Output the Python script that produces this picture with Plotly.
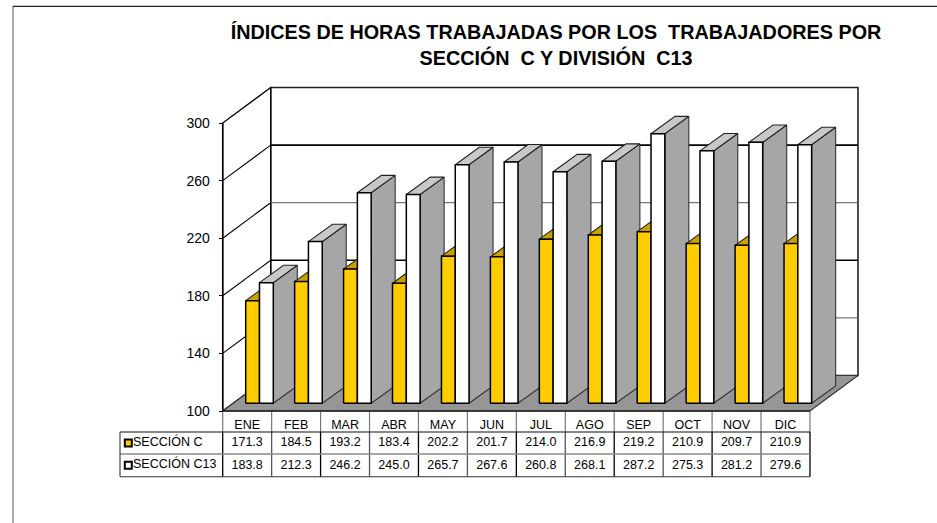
import plotly.graph_objects as go

# ---------- data ----------
months = ["ENE", "FEB", "MAR", "ABR", "MAY", "JUN", "JUL", "AGO", "SEP", "OCT", "NOV", "DIC"]
seccion_c = [171.3, 184.5, 193.2, 183.4, 202.2, 201.7, 214.0, 216.9, 219.2, 210.9, 209.7, 210.9]
seccion_c13 = [183.8, 212.3, 246.2, 245.0, 265.7, 267.6, 260.8, 268.1, 287.2, 275.3, 281.2, 279.6]
y_ticks = [100, 140, 180, 220, 260, 300]
series_names = ["SECCIÓN C", "SECCIÓN C13"]
title_text = ("ÍNDICES DE HORAS TRABAJADAS POR LOS\u00a0 TRABAJADORES POR<br>"
              "SECCIÓN\u00a0 C Y DIVISIÓN\u00a0 C13")

# ---------- scales (pixels per data unit) ----------
W, H = 937, 523
X0_PX, CAT_PX = 222.7, 48.94       # x=0 pixel, width of a category
Y100_PX, VAL_PX = 411.0, 1.44      # pixel of value 100, pixels per value unit
xrange_ = [-X0_PX / CAT_PX, (W - X0_PX) / CAT_PX]
yrange_ = [100 - (H - Y100_PX) / VAL_PX, 100 + Y100_PX / VAL_PX]

WALL_DX, WALL_DY = 48 / CAT_PX, 35.5 / VAL_PX     # box depth
BAR_DX, BAR_DY = 24 / CAT_PX, 17.4 / VAL_PX       # bar depth
BASE_DY = 7.7 / VAL_PX                            # bar base above the front edge
BAR_LEFT, BAR_W = 0.47, 0.282                     # first bar offset and width
ROW_Y = [100 - p / VAL_PX for p in (0, 21, 43, 65.7)]
TABLE_LEFT = (120 - X0_PX) / CAT_PX

GOLD, GOLD_TOP, GOLD_SIDE = "#FFCC00", "#C9A200", "#A98800"
WHITE, GREY_TOP, GREY_SIDE = "#FFFFFF", "#C8C8C8", "#A6A6A6"
FLOOR = "#969696"
FONT = "Liberation Sans, Arial, sans-serif"

fig = go.Figure()


def poly(xs, ys, fill, line="#000000", width=1.3):
    fig.add_trace(go.Scatter(x=list(xs) + [xs[0]], y=list(ys) + [ys[0]], mode="lines", fill="toself",
                             fillcolor=fill, line=dict(color=line, width=width),
                             hoverinfo="skip", showlegend=False))


def seg(xs, ys, color="#000000", width=1.0):
    fig.add_trace(go.Scatter(x=xs, y=ys, mode="lines", line=dict(color=color, width=width),
                             hoverinfo="skip", showlegend=False))


# ---------- walls and floor ----------
poly([WALL_DX, 12 + WALL_DX, 12 + WALL_DX, WALL_DX],
     [100 + WALL_DY, 100 + WALL_DY, 300 + WALL_DY, 300 + WALL_DY], "#FFFFFF", "#222222", 1.6)
poly([0, WALL_DX, WALL_DX, 0], [100, 100 + WALL_DY, 300 + WALL_DY, 300], "#FFFFFF", "#000000", 1.3)
grid_style = {260: ("#000000", 1.7), 220: ("#555555", 1.0), 180: ("#000000", 1.5), 140: ("#555555", 1.0)}
for t in y_ticks[1:-1]:
    col, wid = grid_style[t]
    seg([WALL_DX, 12 + WALL_DX], [t + WALL_DY, t + WALL_DY], col, wid)
    seg([0, WALL_DX], [t, t + WALL_DY], "#000000", 1.1)
poly([0, 12, 12 + WALL_DX, WALL_DX], [100, 100, 100 + WALL_DY, 100 + WALL_DY], FLOOR, "#333333", 1.2)


# ---------- bars ----------
def bar(left, value, front, top, side):
    right = left + BAR_W
    low, high = 100 + BASE_DY, value + BASE_DY
    poly([right, right + BAR_DX, right + BAR_DX, right],
         [low, low + BAR_DY, high + BAR_DY, high], side, "#333333", 1.1)
    poly([left, right, right + BAR_DX, left + BAR_DX],
         [high, high, high + BAR_DY, high + BAR_DY], top, "#222222", 1.1)
    poly([left, right, right, left], [low, low, high, high], front, "#000000", 1.5)


for i, (c, c13) in enumerate(zip(seccion_c, seccion_c13)):
    bar(i + BAR_LEFT, c, GOLD, GOLD_TOP, GOLD_SIDE)
    bar(i + BAR_LEFT + BAR_W, c13, WHITE, GREY_TOP, GREY_SIDE)

seg([0, 0], [100, 300], "#000000", 1.5)

# ---------- data table ----------
for k in range(13):
    seg([k, k], [ROW_Y[0], ROW_Y[1]], "#777777", 1.2)
    seg([k, k], [ROW_Y[1], ROW_Y[3]], "#000000" if k % 2 == 0 else "#555555", 1.3)
seg([0, 12], [ROW_Y[0], ROW_Y[0]], "#222222", 1.5)
seg([TABLE_LEFT, 12], [ROW_Y[1], ROW_Y[1]], "#111111", 1.1)
seg([TABLE_LEFT, 12], [ROW_Y[2], ROW_Y[2]], "#8A8A8A", 1.6)
seg([TABLE_LEFT, 12], [ROW_Y[3], ROW_Y[3]], "#333333", 1.1)
seg([TABLE_LEFT, TABLE_LEFT], [ROW_Y[1], ROW_Y[3]], "#222222", 1.0)

centers = [i + 0.5 for i in range(12)]
row_mid = [(ROW_Y[r] + ROW_Y[r + 1]) / 2 for r in range(3)]
table_rows = [(months, row_mid[0] - 3.1), (
    [f"{v:.1f}" for v in seccion_c], row_mid[1]), ([f"{v:.1f}" for v in seccion_c13], row_mid[2] - 0.3)]
for labels, ypos in table_rows:
    fig.add_trace(go.Scatter(x=centers, y=[ypos] * 12, mode="text", text=labels, textposition="middle center",
                             textfont=dict(family=FONT, size=12.5, color="#000000"),
                             hoverinfo="skip", showlegend=False))

key_x = (128.3 - X0_PX) / CAT_PX
text_x = (133 - X0_PX) / CAT_PX
for r, (name, col) in enumerate(zip(series_names, [GOLD, WHITE])):
    fig.add_trace(go.Scatter(x=[key_x], y=[row_mid[r + 1]], mode="markers",
                             marker=dict(symbol="square", size=7, color=col, line=dict(color="#000000", width=2)),
                             hoverinfo="skip", showlegend=False))
    fig.add_trace(go.Scatter(x=[text_x], y=[row_mid[r + 1]], mode="text", text=[name], textposition="middle right",
                             textfont=dict(family=FONT, size=12.5, color="#000000"),
                             hoverinfo="skip", showlegend=False))

# ---------- outer frame edges (left and top, cut by the image border) ----------
frame_x = (13 - X0_PX) / CAT_PX
frame_y = 100 + (Y100_PX - 6.3) / VAL_PX
seg([frame_x, frame_x], [yrange_[0], frame_y], "#6F6F6F", 1.2)
seg([frame_x, xrange_[1]], [frame_y, frame_y], "#222222", 1.2)

fig.update_layout(
    width=W, height=H, autosize=False,
    margin=dict(l=0, r=0, t=0, b=0),
    paper_bgcolor="#FFFFFF", plot_bgcolor="#FFFFFF",
    showlegend=False,
    font=dict(family=FONT, color="#000000"),
    title=dict(text=title_text, x=556 / W, xanchor="center", y=1 - 39 / H, yanchor="middle",
               font=dict(family=FONT, size=19.8, color="#000000", weight="bold")),
    xaxis=dict(range=xrange_, domain=[0, 1], visible=False, fixedrange=True),
    yaxis=dict(range=yrange_, domain=[0, 1], anchor="free", position=X0_PX / W, side="left",
               tickmode="array", tickvals=y_ticks, ticktext=[str(t) for t in y_ticks],
               ticks="outside", ticklen=4, tickwidth=1.2, tickcolor="#000000",
               tickfont=dict(family=FONT, size=14, color="#000000"),
               showgrid=False, zeroline=False, showline=False, fixedrange=True, ticklabelstandoff=6),
)

fig.write_html("out.html", post_script="document.body.style.margin='0';", config={"displayModeBar": False})
